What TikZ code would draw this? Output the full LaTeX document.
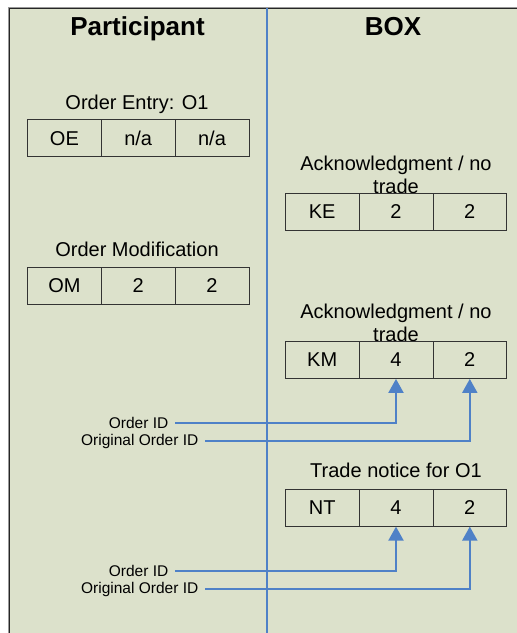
\documentclass[tikz,border=0pt]{standalone}
\usepackage{fontspec}
\setmainfont{Liberation Sans}
\usetikzlibrary{arrows.meta}
\definecolor{bg}{RGB}{220,225,203}
\definecolor{ablue}{RGB}{79,129,199}
\tikzset{
  cell/.style={draw=black!80, line width=0.8pt, minimum width=73.8pt, minimum height=37pt, inner sep=0pt, font=\fontsize{20}{24}\selectfont},
  captext/.style={align=center, inner sep=0pt, font=\fontsize{20}{23}\selectfont},
  head/.style={anchor=base, inner sep=0pt, font=\fontsize{26}{30}\selectfont\bfseries},
  lbl/.style={anchor=east, inner xsep=6.5pt, inner ysep=1pt, font=\fontsize{15.5}{18}\selectfont},
  arr/.style={draw=ablue, line width=2pt, -{Triangle[width=15pt,length=14pt]}},
  divider/.style={draw=ablue, line width=2pt}
}
\begin{document}
\begin{tikzpicture}[x=1pt,y=-1pt]
\useasboundingbox (0,0) rectangle (517,633);
\fill[white] (0,0) rectangle (517,633);
\draw[black!40, line width=1pt] (8,640) -- (8,7) -- (525,7);
\filldraw[fill=bg, draw=black!85, line width=1pt] (9,8) rectangle (530,640);
% divider
\coordinate (dtop) at (267,8);
\coordinate (dbot) at (267,633);
\draw[divider] (dtop) -- (dbot);
% headers
\node[head] (hp) at (137.5,35) {Participant};
\node[head] (hb) at (393,35) {BOX};
% Order Entry
\node[captext, anchor=base] (coe) at (137,109) {Order Entry: O1};
\node[cell] (oe1) at (64.4,138.3) {OE};
\node[cell] (oe2) at (138.2,138.3) {n/a};
\node[cell] (oe3) at (212,138.3) {n/a};
% Order Modification
\node[captext, anchor=base] (com) at (137,256.7) {Order Modification};
\node[cell] (om1) at (64.4,285.7) {OM};
\node[cell] (om2) at (138.2,285.7) {2};
\node[cell] (om3) at (212,285.7) {2};
% KE
\node[captext] (cke) at (396,174.7) {Acknowledgment / no\\trade};
\node[cell] (ke1) at (322.2,212) {KE};
\node[cell] (ke2) at (396,212) {2};
\node[cell] (ke3) at (469.8,212) {2};
% KM
\node[captext] (ckm) at (396,322.7) {Acknowledgment / no\\trade};
\node[cell] (km1) at (322.2,360) {KM};
\node[cell] (km2) at (396,360) {4};
\node[cell] (km3) at (469.8,360) {2};
% NT
\node[captext, anchor=base] (cnt) at (396,477.5) {Trade notice for O1};
\node[cell] (nt1) at (322.2,507.7) {NT};
\node[cell] (nt2) at (396,507.7) {4};
\node[cell] (nt3) at (469.8,507.7) {2};
% labels and arrows
\node[lbl] (l1) at (175,422.7) {Order ID};
\node[lbl] (l2) at (205,441.3) {Original Order ID};
\node[lbl] (l3) at (175,570.7) {Order ID};
\node[lbl] (l4) at (205,589.3) {Original Order ID};
\draw[arr] (l1.east) -| (km2.south);
\draw[arr] (l2.east) -| (km3.south);
\draw[arr] (l3.east) -| (nt2.south);
\draw[arr] (l4.east) -| (nt3.south);
\end{tikzpicture}
\end{document}
